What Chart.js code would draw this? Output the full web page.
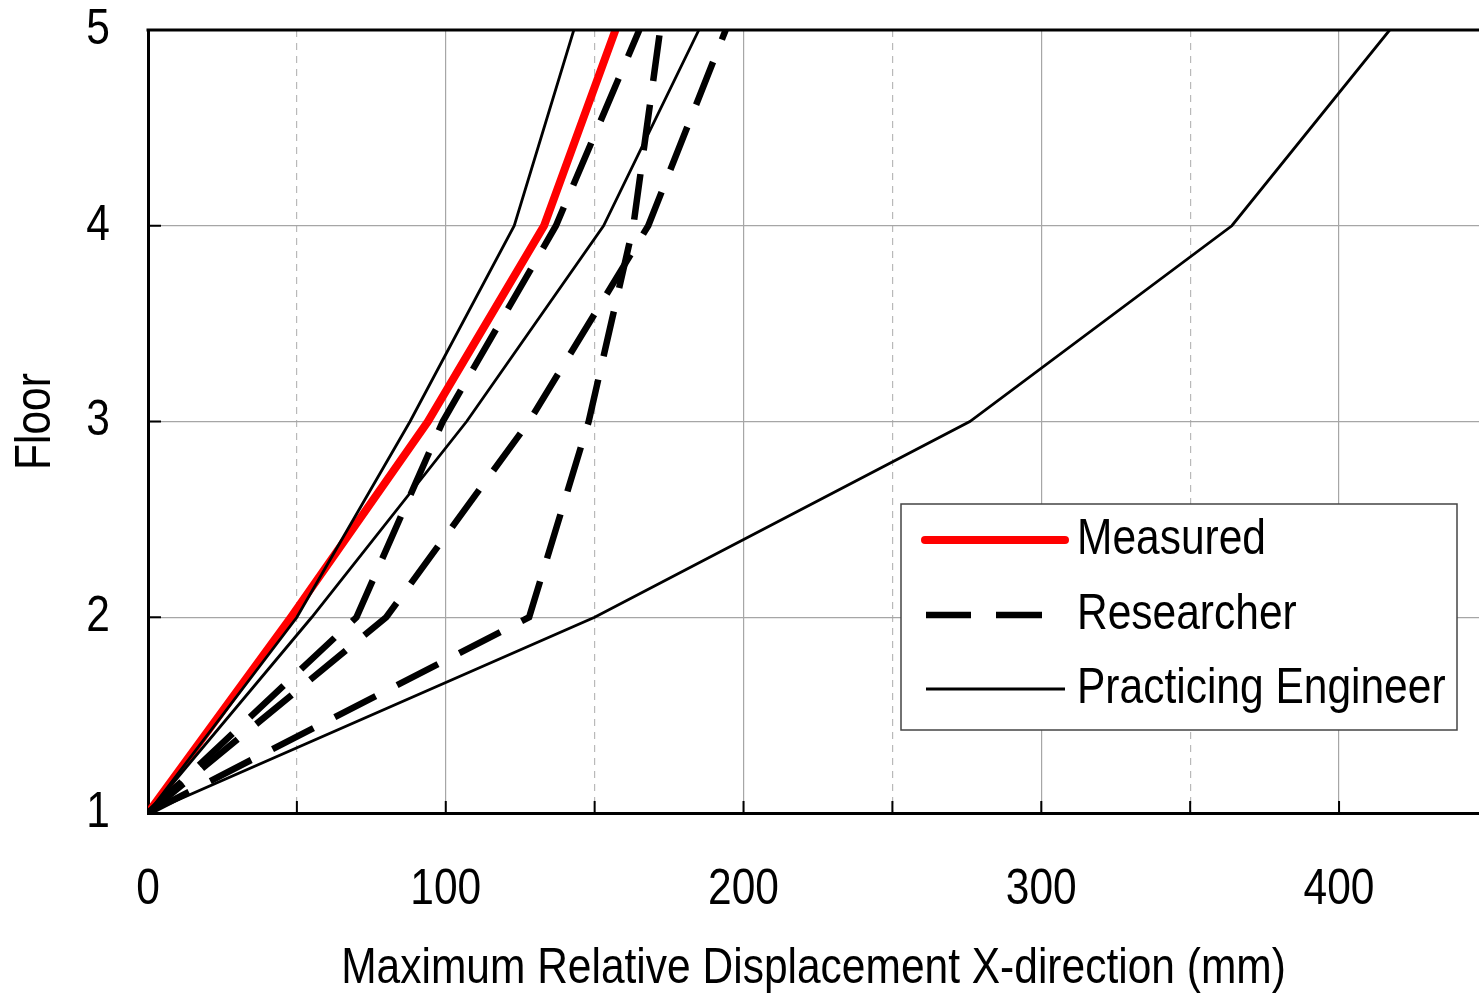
<!DOCTYPE html>
<html lang="en">
<head>
    <meta charset="UTF-8">
    <title>Maximum Relative Displacement</title>
    <style>
        * { margin: 0; padding: 0; box-sizing: border-box; }
        body { background: #fff; overflow: hidden; }
        .chart-box { position: relative; width: 1479px; height: 994px; }
    </style>
</head>
<body>
    <div class="chart-box"><canvas id="dispChart"></canvas></div>

    <script src="https://cdn.jsdelivr.net/npm/chart.js@4.4.0/dist/chart.umd.min.js"></script>
    <script>
        // Floor levels and peak relative displacement (mm) per floor
        const floors = [1, 2, 3, 4, 5];
        const measured = [0, 48, 94, 133, 157];
        const researcherA = [0, 70, 99, 137, 165];
        const researcherB = [0, 80, 128, 168, 194];
        const researcherC = [0, 128, 148, 163, 172];
        const engineerA = [0, 50, 88, 123, 143];
        const engineerB = [0, 55, 107, 153, 185];
        const engineerC = [0, 150, 276, 364, 417];

        const floorTicks = [1, 2, 3, 4, 5];
        const dispTicks = [0, 100, 200, 300, 400];
        const legendLabels = ['Measured', 'Researcher', 'Practicing Engineer'];

        const FONT = '"Liberation Sans", Arial, sans-serif';
        const SQUEEZE = 0.85; // narrow face look

        function toPoints(values) {
            return values.map((v, i) => ({ x: v, y: floors[i] }));
        }

        const styles = {
            Measured: { borderColor: '#ff0000', borderWidth: 8, borderDash: [], order: 3 },
            Researcher: { borderColor: '#000', borderWidth: 6.5, borderDash: [46, 24], order: 2 },
            'Practicing Engineer': { borderColor: '#000', borderWidth: 2.8, borderDash: [], order: 1 }
        };

        function makeSet(label, values) {
            return Object.assign({
                label: label,
                data: toPoints(values),
                showLine: true,
                pointRadius: 0,
                fill: false,
                tension: 0,
                borderCapStyle: 'butt'
            }, styles[label]);
        }

        const datasets = [
            makeSet('Measured', measured),
            makeSet('Researcher', researcherA),
            makeSet('Researcher', researcherB),
            makeSet('Researcher', researcherC),
            makeSet('Practicing Engineer', engineerA),
            makeSet('Practicing Engineer', engineerB),
            makeSet('Practicing Engineer', engineerC)
        ];

        // squeeze all canvas text horizontally so it reads like a narrow face
        const narrowText = {
            id: 'narrowText',
            beforeInit(chart) {
                const ctx = chart.ctx;
                const fill = ctx.fillText.bind(ctx);
                const measure = ctx.measureText.bind(ctx);
                ctx.fillText = (text, x, y) => {
                    ctx.save();
                    ctx.translate(x, y);
                    ctx.scale(SQUEEZE, 1);
                    fill(text, 0, 0);
                    ctx.restore();
                };
                ctx.measureText = text => {
                    const m = measure(text);
                    return {
                        width: m.width * SQUEEZE,
                        actualBoundingBoxAscent: m.actualBoundingBoxAscent,
                        actualBoundingBoxDescent: m.actualBoundingBoxDescent
                    };
                };
            }
        };

        // top frame line plus the short inward ticks on the bottom and left axes
        const frame = {
            id: 'frame',
            afterDatasetsDraw(chart) {
                const { ctx, chartArea: a, scales } = chart;
                ctx.save();
                ctx.strokeStyle = '#000';
                ctx.lineWidth = 3;
                ctx.beginPath();
                ctx.moveTo(a.left - 1.5, a.top);
                ctx.lineTo(a.right, a.top);
                ctx.stroke();
                ctx.lineWidth = 2;
                ctx.beginPath();
                for (let v = 50; v < scales.x.max; v += 50) {
                    const px = scales.x.getPixelForValue(v);
                    ctx.moveTo(px, a.bottom); ctx.lineTo(px, a.bottom - 12);
                }
                floorTicks.forEach(f => {
                    const py = scales.y.getPixelForValue(f);
                    ctx.moveTo(a.left, py); ctx.lineTo(a.left + 13, py);
                });
                ctx.stroke();
                ctx.restore();
            }
        };

        // boxed legend inside the plot
        const boxLegend = {
            id: 'boxLegend',
            afterDraw(chart) {
                const ctx = chart.ctx;
                const x = 901, y = 504, w = 556, h = 226;
                ctx.save();
                ctx.fillStyle = '#fff';
                ctx.fillRect(x, y, w, h);
                ctx.strokeStyle = '#444';
                ctx.lineWidth = 1.5;
                ctx.strokeRect(x, y, w, h);
                const rows = [540, 615, 689];
                legendLabels.forEach((label, i) => {
                    const s = styles[label];
                    const ly = rows[i];
                    ctx.strokeStyle = s.borderColor;
                    ctx.lineWidth = s.borderWidth;
                    ctx.lineCap = label === 'Measured' ? 'round' : 'butt';
                    ctx.beginPath();
                    if (label === 'Researcher') {
                        ctx.moveTo(926, ly); ctx.lineTo(971, ly);
                        ctx.moveTo(996, ly); ctx.lineTo(1042, ly);
                    } else {
                        ctx.moveTo(label === 'Measured' ? 925 : 926, ly);
                        ctx.lineTo(1065, ly);
                    }
                    ctx.stroke();
                    ctx.fillStyle = '#000';
                    ctx.font = '50px ' + FONT;
                    ctx.textBaseline = 'middle';
                    ctx.textAlign = 'left';
                    ctx.fillText(label, 1077, ly);
                });
                ctx.restore();
            }
        };

        new Chart(document.getElementById('dispChart'), {
            type: 'scatter',
            data: { datasets: datasets },
            options: {
                responsive: true,
                maintainAspectRatio: false,
                animation: false,
                layout: { padding: { top: 30, right: 0, left: 0, bottom: 0 } },
                plugins: {
                    legend: { display: false },
                    tooltip: { enabled: false }
                },
                scales: {
                    x: {
                        type: 'linear',
                        position: 'bottom',
                        min: 0,
                        max: 447,
                        afterFit(scale) {
                            scale.height = 181;
                            scale.paddingLeft = 0;
                            scale.paddingRight = 0;
                        },
                        afterBuildTicks(scale) {
                            scale.ticks = dispTicks.map(v => ({ value: v }));
                        },
                        ticks: {
                            padding: 47,
                            color: '#000',
                            font: { family: FONT, size: 50 }
                        },
                        grid: { color: '#a6a6a6', lineWidth: 1.2, drawTicks: false },
                        border: { color: '#000', width: 3 },
                        title: {
                            display: true,
                            text: 'Maximum Relative Displacement X-direction (mm)',
                            color: '#000',
                            font: { family: FONT, size: 50, lineHeight: 1 },
                            padding: { top: 0, bottom: 0 }
                        }
                    },
                    xMinor: {
                        type: 'linear',
                        position: 'bottom',
                        min: 0,
                        max: 447,
                        afterFit(scale) { scale.height = 0; },
                        ticks: { display: false, stepSize: 50, includeBounds: false },
                        grid: {
                            drawTicks: false,
                            lineWidth: 1.2,
                            color: c => (c.tick && c.tick.value % 100 !== 0) ? '#b9b9b9' : 'transparent'
                        },
                        border: { display: false, dash: [7, 6] }
                    },
                    y: {
                        type: 'linear',
                        min: 1,
                        max: 5,
                        afterFit(scale) {
                            scale.width = 148;
                            scale.paddingTop = 0;
                            scale.paddingBottom = 0;
                        },
                        afterBuildTicks(scale) {
                            scale.ticks = floorTicks.map(v => ({ value: v }));
                        },
                        ticks: {
                            padding: 38,
                            color: '#000',
                            font: { family: FONT, size: 50 }
                        },
                        grid: { color: '#a6a6a6', lineWidth: 1.2, drawTicks: false },
                        border: { color: '#000', width: 3 },
                        title: {
                            display: true,
                            text: 'Floor',
                            color: '#000',
                            font: { family: FONT, size: 50, lineHeight: 1 },
                            padding: { top: 11, bottom: 0 }
                        }
                    }
                }
            },
            plugins: [narrowText, frame, boxLegend]
        });
    </script>
</body>
</html>
